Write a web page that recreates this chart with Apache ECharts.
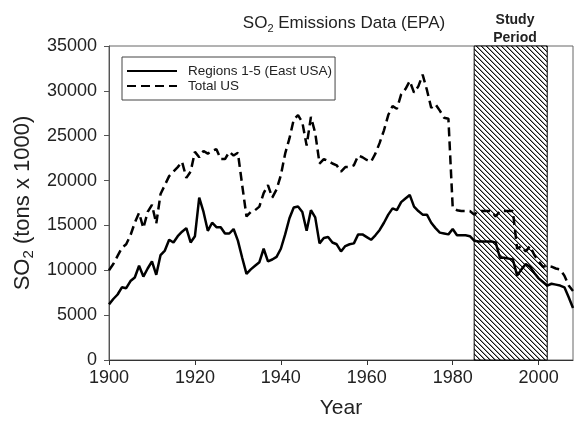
<!DOCTYPE html>
<html>
<head>
<meta charset="utf-8">
<script src="https://cdn.jsdelivr.net/npm/echarts@6/dist/echarts.min.js"></script>
<style>
    html, body { margin: 0; padding: 0; background: #fff; }
    #chart { width: 576px; height: 424px; }
</style>
</head>
<body>
<div id="chart"></div>
<script>
// data (tons x 1000), one value per year from 1900
var startYear = 1900;
var regionValues = [
    6200, 6800, 7300, 8100, 8000, 8800, 9200, 10500, 9300, 10200,
    11000, 9500, 11700, 12200, 13400, 13100, 13800, 14300, 14700, 13100,
    13800, 18100, 16500, 14400, 15300, 14800, 14800, 14100, 14100, 14600,
    13300, 11400, 9600, 10100, 10500, 10900, 12400, 11000, 11200, 11500,
    12400, 14000, 15800, 17000, 17100, 16500, 14400, 16700, 15900, 13000,
    13600, 13700, 13100, 12900, 12100, 12700, 12900, 13000, 14000, 14000,
    13700, 13400, 13900, 14500, 15300, 16200, 16900, 16700, 17600, 18000,
    18400, 17100, 16600, 16200, 16200, 15300, 14700, 14200, 14100, 14000,
    14600, 13900, 13900, 13900, 13800, 13300, 13200, 13200, 13200, 13200,
    13100, 11400, 11400, 11300, 11200, 9400, 10100, 10700, 10400, 9700,
    9100, 8700, 8300, 8500, 8400, 8300, 8100, 7000, 5800
];
var totalValues = [
    10000, 10700, 11600, 12500, 12900, 13900, 15300, 16400, 14700, 16500,
    17300, 15200, 18500, 19500, 20500, 21000, 21500, 22100, 20300, 21000,
    23200, 22600, 23300, 23000, 23300, 23500, 22400, 22400, 23200, 22800,
    23100, 19500, 16000, 16500, 16700, 17100, 18600, 19500, 18100, 19000,
    20600, 23000, 24700, 26800, 27300, 26500, 23900, 27100, 25300, 21900,
    22400, 22200, 21900, 21700, 21000, 21500, 21500, 21700, 22800, 22600,
    22300, 22100, 23000, 24200, 25600, 27300, 28300, 28000, 29600, 30200,
    31100, 29800, 30500, 31800, 30100, 28100, 28500, 27800, 27000, 26900,
    17000, 16700, 16600, 16600, 16600, 16200, 16600, 16600, 16600, 16600,
    16000, 16600, 16600, 16600, 16600, 12400, 12700, 12100, 12700, 11700,
    11000, 10400, 10500, 10400, 10200, 10100, 9400, 8300, 7700
];
var seriesNames = ['Regions 1-5 (East USA)', 'Total US'];
var studyPeriod = [1985, 2002];
var xTicks = [1900, 1920, 1940, 1960, 1980, 2000];

var font = '"Liberation Sans", Arial, sans-serif';

function toPairs(values) {
    var out = [];
    for (var i = 0; i < values.length; i++) {
        out.push([startYear + i, values[i]]);
    }
    return out;
}

// hatch pattern for the study period, "\" lines
function makeHatch() {
    var n = 5;
    var c = document.createElement('canvas');
    c.width = n;
    c.height = n;
    var ctx = c.getContext('2d');
    ctx.fillStyle = '#fff';
    ctx.fillRect(0, 0, n, n);
    for (var i = 0; i < n; i++) {
        ctx.fillStyle = '#111';
        ctx.fillRect(i, i, 1, 1);
        ctx.fillStyle = '#999';
        ctx.fillRect((i + 1) % n, i, 1, 1);
    }
    return c;
}

var myChart = echarts.init(document.getElementById('chart'), null, { renderer: 'canvas' });

var option = {
    animation: false,
    backgroundColor: '#fff',
    textStyle: { fontFamily: font },
    title: [{
        text: 'SO{sub|2} Emissions Data (EPA)',
        left: 339,
        top: 7,
        textAlign: 'center',
        textStyle: {
            fontFamily: font, fontSize: 17, fontWeight: 'normal', color: '#222',
            lineHeight: 22,
            rich: { sub: { fontFamily: font, fontSize: 11, lineHeight: 11, padding: [11, 0, 0, 0], color: '#222' } }
        }
    }, {
        text: 'Study\nPeriod',
        left: 510,
        top: 6,
        textAlign: 'center',
        textStyle: { fontFamily: font, fontSize: 14, fontWeight: 'bold', color: '#222', lineHeight: 18 }
    }],
    legend: {
        data: seriesNames,
        orient: 'vertical',
        left: 122,
        top: 57,
        padding: [7, 3, 7, 4],
        itemWidth: 50,
        itemHeight: 12,
        itemGap: 1,
        borderColor: '#444',
        borderWidth: 1,
        itemStyle: { opacity: 0 },
        textStyle: { fontFamily: font, fontSize: 13.5, color: '#222', padding: [0, 0, 0, 6] }
    },
    grid: {
        left: 109, right: 3, top: 46, bottom: 60,
        show: true, borderColor: '#666', borderWidth: 1
    },
    xAxis: {
        type: 'value',
        min: 1900, max: 2008, interval: 20,
        name: 'Year',
        nameLocation: 'middle',
        nameGap: 38,
        nameTextStyle: { fontFamily: font, fontSize: 21, color: '#222' },
        axisLine: { lineStyle: { color: '#333', width: 1 } },
        axisTick: { length: 5, customValues: xTicks, lineStyle: { color: '#333' } },
        axisLabel: {
            margin: 9, customValues: xTicks, fontFamily: font, fontSize: 18, color: '#222',
            formatter: function (v) { return String(v); }
        },
        splitLine: { show: false }
    },
    yAxis: {
        type: 'value',
        min: 0, max: 35000, interval: 5000,
        name: 'SO{sub|2} (tons x 1000)',
        nameLocation: 'middle',
        nameGap: 65,
        nameTextStyle: {
            fontFamily: font, fontSize: 22, color: '#222', lineHeight: 26,
            rich: { sub: { fontFamily: font, fontSize: 15, lineHeight: 15, padding: [11, 0, 0, 0], color: '#222' } }
        },
        axisLine: { show: true, lineStyle: { color: '#555', width: 1 } },
        axisTick: { show: true, length: 5, lineStyle: { color: '#555' } },
        axisLabel: {
            margin: 12, fontFamily: font, fontSize: 18, color: '#222',
            formatter: function (v) { return String(v); }
        },
        splitLine: { show: false }
    },
    series: [{
        name: seriesNames[0],
        type: 'line',
        symbol: 'none',
        data: toPairs(regionValues),
        lineStyle: { color: '#000', width: 2.5 },
        itemStyle: { color: '#000' },
        z: 3,
        markArea: {
            silent: true,
            itemStyle: {
                color: { image: makeHatch(), repeat: 'repeat' },
                borderColor: '#000',
                borderWidth: 1
            },
            data: [[{ xAxis: studyPeriod[0] }, { xAxis: studyPeriod[1] }]]
        }
    }, {
        name: seriesNames[1],
        type: 'line',
        symbol: 'none',
        data: toPairs(totalValues),
        lineStyle: { color: '#000', width: 2.5, type: [9, 5] },
        itemStyle: { color: '#000' },
        z: 3
    }]
};

myChart.setOption(option);
</script>
</body>
</html>
